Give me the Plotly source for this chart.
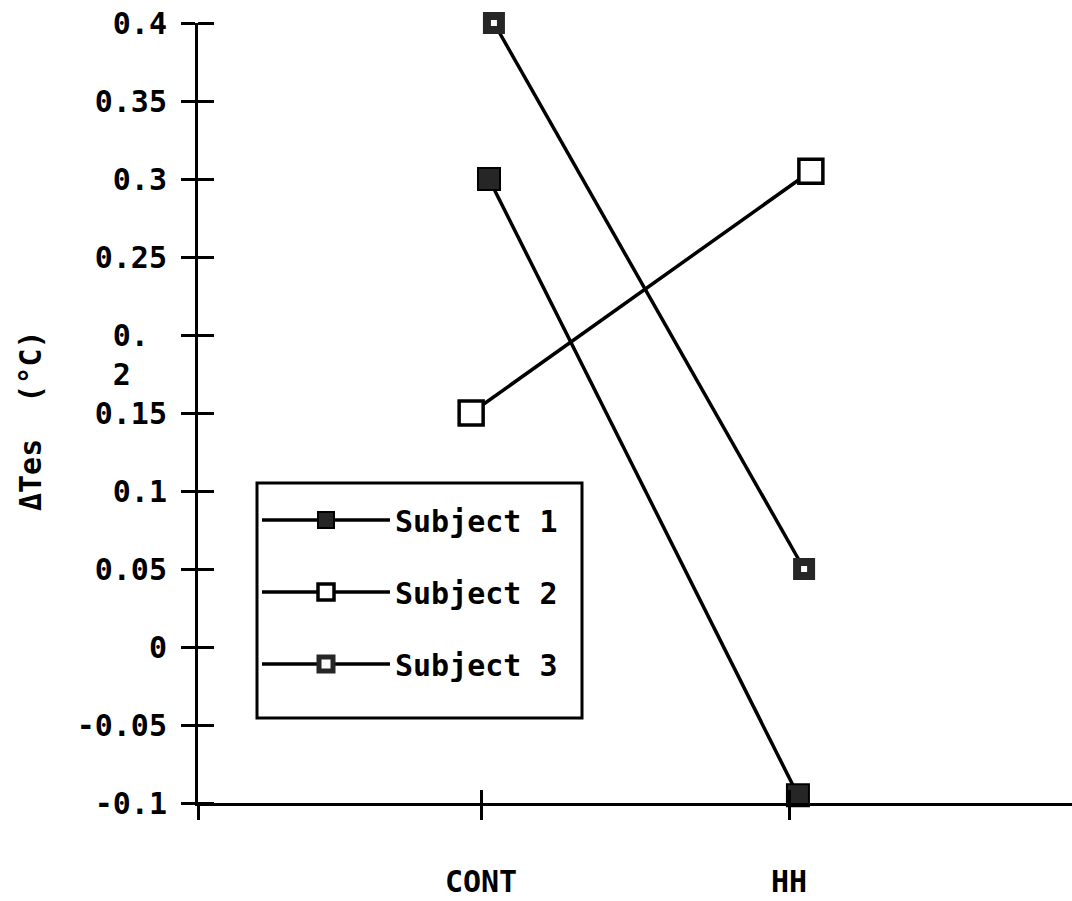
import plotly.graph_objects as go

# Conditions on the horizontal axis and the change in Tes per subject
conditions = ["CONT", "HH"]
subjects = ["Subject 1", "Subject 2", "Subject 3"]
subject1 = [0.30, -0.095]
subject2 = [0.15, 0.305]
subject3 = [0.40, 0.05]

y_ticks = [-0.1, -0.05, 0, 0.05, 0.1, 0.15, 0.2, 0.25, 0.3, 0.35, 0.4]
y_tick_labels = ["-0.1", "-0.05", "0", "0.05", "0.1", "0.15",
                 "\u00a0<br>0.\u00a0<br>2\u00a0\u00a0",
                 "0.25", "0.3", "0.35", "0.4"]
y_title = "ΔTes  (°C)"

# category slots on a numeric axis, with a small per-subject dodge
slots = [1, 2]
dodge = {
    "Subject 1": (0.026, 0.029),
    "Subject 2": (-0.032, 0.071),
    "Subject 3": (0.042, 0.049),
}
x_lo, x_hi = 1 - 283 / 308, 2 + 283 / 308
y_lo, y_hi = -0.1, 0.4

ink = "#000000"
dark = "#262626"
markers = {
    "Subject 1": dict(symbol="square", size=22, color=dark, line=dict(width=2, color=ink)),
    "Subject 2": dict(symbol="square", size=24, color="white", line=dict(width=3.5, color=ink)),
    "Subject 3": dict(symbol="square", size=14, color="white", line=dict(width=8, color=dark)),
}

fig = go.Figure()
for name, values in zip(subjects, [subject1, subject2, subject3]):
    xs = [s + d for s, d in zip(slots, dodge[name])]
    fig.add_trace(go.Scatter(
        x=xs, y=values, name=name, mode="lines+markers",
        line=dict(color=ink, width=3.5), marker=markers[name],
        legendgroup=name, cliponaxis=False,
    ))

# empty traces so the overlaid axes (inner half of the cross ticks) get drawn
for xa, ya in [("x2", "y"), ("x", "y2")]:
    fig.add_trace(go.Scatter(x=[None], y=[None], xaxis=xa, yaxis=ya,
                             showlegend=False, hoverinfo="skip"))

font_family = "DejaVu Sans Mono"
W, H = 1072, 901
plot_left, plot_right, plot_top, plot_bottom = 198, 1072, 23, 803
plot_w, plot_h = plot_right - plot_left, plot_bottom - plot_top


def px_to_paper(px, py):
    return (px - plot_left) / plot_w, (plot_bottom - py) / plot_h


# legend frame
bx0, by0 = px_to_paper(257, 718)
bx1, by1 = px_to_paper(582, 483)
lx, ly = px_to_paper(257, 494)
tx, ty = px_to_paper(30, 421)

axis_common = dict(showgrid=False, zeroline=False, automargin=False,
                   tickcolor=ink, tickwidth=3, tickmode="array")

fig.update_layout(
    width=W, height=H, autosize=False,
    margin=dict(l=plot_left, r=W - plot_right, t=plot_top, b=H - plot_bottom, pad=0),
    paper_bgcolor="white", plot_bgcolor="white",
    font=dict(family=font_family, size=30, color=ink, weight="bold"),
    showlegend=True,
    legend=dict(
        x=lx, y=ly, xanchor="left", yanchor="top",
        borderwidth=0, bgcolor="rgba(0,0,0,0)",
        itemwidth=128, tracegroupgap=30, traceorder="grouped",
        font=dict(family=font_family, size=30, color=ink, weight="bold"),
    ),
    shapes=[dict(type="rect", xref="paper", yref="paper",
                 x0=bx0, x1=bx1, y0=by0, y1=by1,
                 line=dict(color=ink, width=3), fillcolor="white", layer="below")],
    annotations=[dict(text=y_title, xref="paper", yref="paper", x=tx, y=ty,
                      xanchor="center", yanchor="middle", textangle=-90,
                      showarrow=False,
                      font=dict(family=font_family, size=30, color=ink, weight="bold"))],
    xaxis=dict(
        range=[x_lo, x_hi],
        tickvals=[x_lo + 1e-6] + slots, ticktext=[""] + conditions,
        ticks="outside", ticklen=14,
        showline=True, linewidth=3, linecolor=ink,
        ticklabelstandoff=36, **axis_common,
    ),
    xaxis2=dict(
        overlaying="x", anchor="y", range=[x_lo, x_hi],
        tickvals=slots, ticks="inside", ticklen=13,
        showticklabels=False, showline=False, **axis_common,
    ),
    yaxis=dict(
        range=[y_lo, y_hi],
        tickvals=y_ticks, ticktext=y_tick_labels,
        ticks="outside", ticklen=14,
        showline=True, linewidth=3, linecolor=ink,
        ticklabelstandoff=8, **axis_common,
        minor=dict(ticks="inside", tickmode="array",
                   tickvals=[v + 1e-9 for v in y_ticks],
                   ticklen=15, tickwidth=3, tickcolor=ink, showgrid=False),
    ),
    yaxis2=dict(
        overlaying="y", anchor="free", position=0, side="right",
        range=[y_lo, y_hi],
        tickvals=y_ticks, ticks="outside", ticklen=15,
        showticklabels=False, showline=False, **axis_common,
    ),
)

fig.write_html("out.html")
